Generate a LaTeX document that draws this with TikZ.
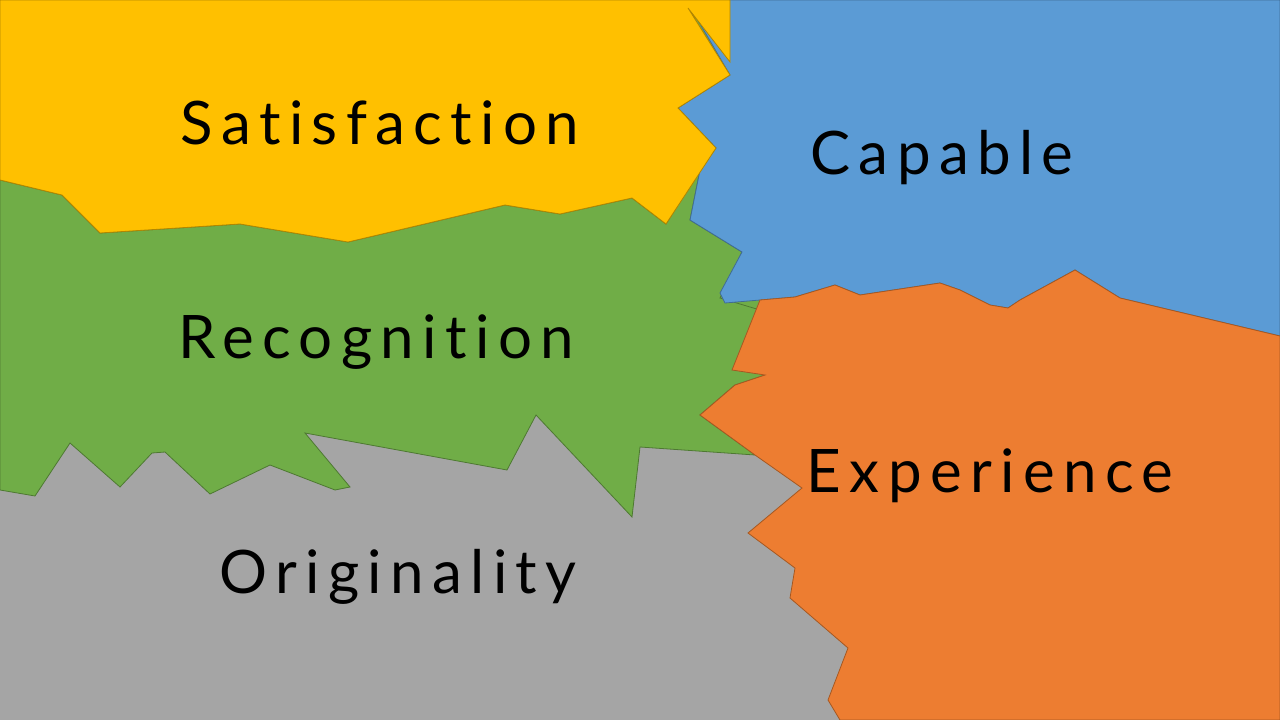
\documentclass[tikz,border=0pt]{standalone}
\usepackage{fontspec}
\setmainfont[LetterSpace=14,Ligatures={NoCommon,NoRare}]{Lato}
\tikzset{
  patch/.style={draw=#1!70!black, line width=0.8pt, fill=#1},
  word/.style={font=\fontsize{60}{66}\selectfont, text=black}
}
\definecolor{sunny}{HTML}{FFC000}
\definecolor{sky}{HTML}{5B9BD5}
\definecolor{leaf}{HTML}{70AD47}
\definecolor{stone}{HTML}{A5A5A5}
\definecolor{ember}{HTML}{ED7D31}
\begin{document}
\begin{tikzpicture}[x=1pt,y=-1pt]
  \useasboundingbox (0,0) rectangle (1280,720);
  \fill[leaf] (0,0) rectangle (1280,720);
  % gray
  \fill[stone] (0,400) -- (755,400) -- (755,455) -- (802,488) -- (748,533) -- (795,568) -- (790,598)
    -- (848,648) -- (828,700) -- (840,720) -- (0,720) -- cycle;
  % green
  \path[patch=leaf] (0,180) -- (62,195) -- (100,233) -- (240,224) -- (348,242) -- (505,205) -- (560,214)
    -- (632,198) -- (666,224) -- (700,170) -- (690,220) -- (742,252) -- (720,298) -- (760,310)
    -- (765,375) -- (735,385) -- (700,415) -- (755,455) -- (640,447) -- (632,517) -- (536,415)
    -- (507,470) -- (305,433) -- (350,487) -- (335,490) -- (270,465) -- (210,494) -- (165,452)
    -- (152,453) -- (120,487) -- (70,443) -- (35,496) -- (0,490) -- cycle;
  % blue
  \path[patch=sky] (686,0) -- (1280,0) -- (1280,336) -- (1120,298) -- (1075,270) -- (1020,300)
    -- (1008,308) -- (990,305) -- (960,290) -- (940,283) -- (860,295) -- (835,285) -- (795,297)
    -- (760,300) -- (725,303) -- (720,293) -- (742,252) -- (690,220) -- (700,170) -- (716,148)
    -- (678,108) -- (730,75) -- cycle;
  % yellow
  \path[patch=sunny] (0,0) -- (730,0) -- (730,62) -- (688,8) -- (730,75) -- (678,108) -- (716,148)
    -- (666,224) -- (632,198) -- (560,214) -- (505,205) -- (348,242) -- (240,224) -- (100,233)
    -- (62,195) -- (0,180) -- cycle;
  % orange
  \path[patch=ember] (760,300) -- (795,297) -- (835,285) -- (860,295) -- (940,283) -- (960,290)
    -- (990,305) -- (1008,308) -- (1020,300) -- (1075,270) -- (1120,298) -- (1280,336)
    -- (1280,720) -- (840,720) -- (828,700) -- (848,648) -- (790,598) -- (795,568) -- (748,533)
    -- (802,488) -- (755,455) -- (700,415) -- (735,385) -- (765,375) -- (732,370) -- cycle;
  \node[word] (satisfaction) at (380,123) {Satisfaction};
  \node[word] (capable) at (942,158) {Capable};
  \node[word] (recognition) at (376,342) {Recognition};
  \node[word] (originality) at (398,577) {Originality};
  \node[word] (experience) at (990,476) {Experience};
\end{tikzpicture}
\end{document}
